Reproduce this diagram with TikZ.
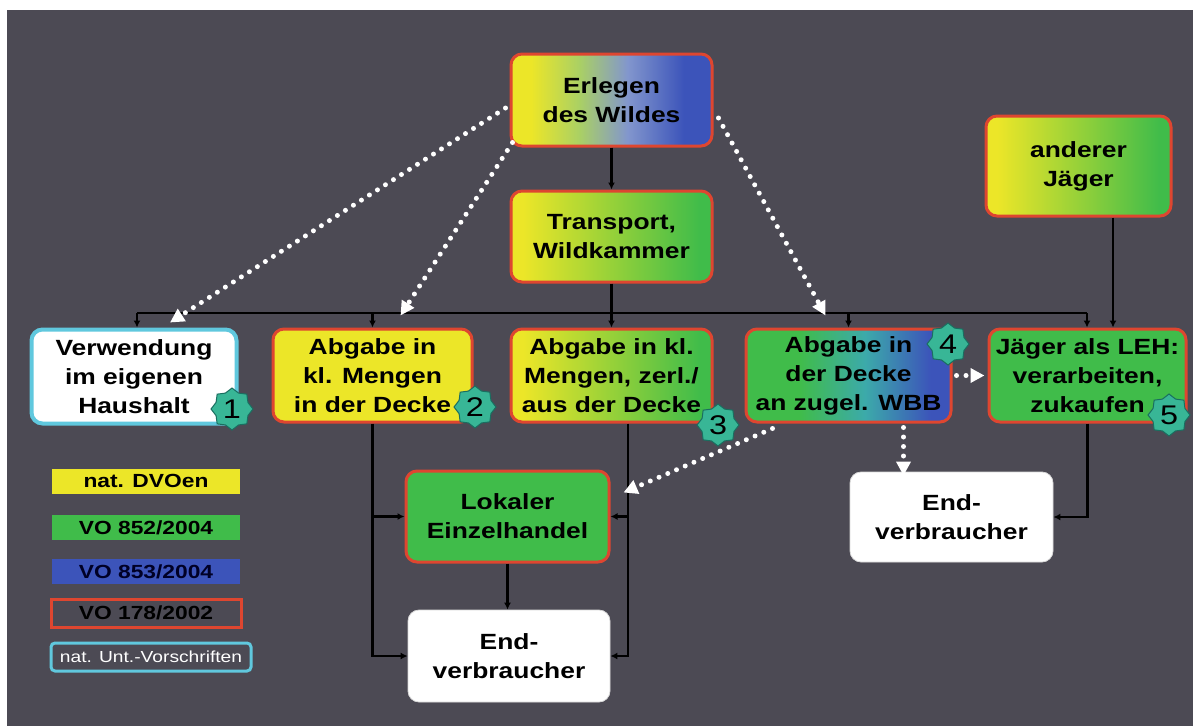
\documentclass[tikz,border=0pt]{standalone}
\usepackage{fontspec}
\setmainfont{Liberation Sans}
\newfontfamily\wide[FakeStretch=1.2]{Liberation Sans}
\usetikzlibrary{shapes.geometric,arrows.meta}
\definecolor{bg}{RGB}{76,74,84}
\definecolor{cyel}{RGB}{236,230,40}
\definecolor{cgrn}{RGB}{64,188,74}
\definecolor{cblu}{RGB}{60,84,186}
\definecolor{clgr}{RGB}{170,208,100}
\definecolor{clav}{RGB}{130,150,205}
\definecolor{ccya}{RGB}{60,170,170}
\definecolor{cred}{RGB}{222,70,48}
\definecolor{ccyan}{RGB}{96,200,222}
\definecolor{cteal}{RGB}{56,182,150}
\definecolor{ctealdk}{RGB}{26,110,96}
\pgfdeclarehorizontalshading{yg}{100bp}{color(0bp)=(cyel); color(28bp)=(cyel); color(72bp)=(cgrn); color(100bp)=(cgrn)}
\pgfdeclarehorizontalshading{ygb}{100bp}{color(0bp)=(cyel); color(30bp)=(cyel); color(42bp)=(clgr); color(54bp)=(clav); color(68bp)=(cblu); color(100bp)=(cblu)}
\pgfdeclarehorizontalshading{gb}{100bp}{color(0bp)=(cgrn); color(38bp)=(cgrn); color(54bp)=(ccya); color(70bp)=(cblu); color(100bp)=(cblu)}
\begin{document}
\begin{tikzpicture}[x=1pt,y=-1pt,
  box/.style={rounded corners=11, align=center, inner sep=0, text=black,
    font=\wide\bfseries\fontsize{22}{29}\selectfont},
  redb/.style={box, draw=cred, line width=3},
  blk/.style={draw=black, line width=2.2},
  blkarr/.style={blk, -{Latex[length=7,width=7]}},
  dotarr/.style={draw=white, line width=5, line cap=round, dash pattern=on 0pt off 9.5pt,
    -{Triangle[length=14,width=14]}},
  badge/.style={star, star points=8, star point ratio=1.22, minimum size=42, inner sep=0,
    fill=cteal, draw=ctealdk, line width=1, text=black,
    font=\wide\fontsize{27}{27}\selectfont},
  legend/.style={minimum width=188, minimum height=25, inner sep=0,
    font=\wide\bfseries\fontsize{19}{20}\selectfont}
]
\useasboundingbox (0,0) rectangle (1193,726);
\fill[white] (0,0) rectangle (1193,726);
\fill[bg] (7,10) rectangle (1193,726);

% boxes
\node[redb, shade, shading=ygb, minimum width=201, minimum height=92] (erlegen) at (611.5,100) {Erlegen\\des Wildes};
\node[redb, shade, shading=yg, minimum width=201, minimum height=91] (transport) at (611.5,236.5) {Transport,\\Wildkammer};
\node[redb, shade, shading=yg, minimum width=185, minimum height=100] (anderer) at (1078.5,166) {anderer\\Jäger};
\node[box, fill=white, draw=ccyan, line width=4, minimum width=205, minimum height=94] (verw) at (134,376.5) {Verwendung\\im eigenen\\Haushalt};
\node[redb, fill=cyel, minimum width=199, minimum height=93] (abg2) at (372.5,375.5) {Abgabe in\\kl. Mengen\\in der Decke};
\node[redb, shade, shading=yg, minimum width=201, minimum height=93] (abg3) at (611.5,375.5) {Abgabe in kl.\\Mengen, zerl./\\aus der Decke};
\node[redb, shade, shading=gb, minimum width=205, minimum height=93] (abg4) at (848.5,375.5) {Abgabe in\\der Decke\\an zugel. WBB};
\node[redb, fill=cgrn, minimum width=197, minimum height=93] (leh) at (1087.5,375.5) {Jäger als LEH:\\verarbeiten,\\zukaufen};
\node[redb, fill=cgrn, minimum width=203, minimum height=91] (lokal) at (507.5,516.5) {Lokaler\\Einzelhandel};
\node[box, fill=white, draw=white!85!black, line width=0.8, minimum width=202, minimum height=92] (end1) at (509,656) {End-\\verbraucher};
\node[box, fill=white, draw=white!85!black, line width=0.8, minimum width=203, minimum height=90] (end2) at (951.5,517) {End-\\verbraucher};

% legend
\node[legend, fill=cyel] (l1) at (146,481) {nat. DVOen};
\node[legend, fill=cgrn] (l2) at (146,527.5) {VO 852/2004};
\node[legend, fill=cblu, text=black!85!blue] (l3) at (146,571.5) {VO 853/2004};
\node[legend, fill=bg, draw=cred, line width=3, minimum width=190, minimum height=28] (l4) at (146,613) {VO 178/2002};
\node[legend, fill=bg, draw=ccyan, line width=3, rounded corners=4, minimum width=200, minimum height=28, text=white, font=\wide\fontsize{16}{18}\selectfont] (l5) at (151,657) {nat. Unt.-Vorschriften};

% black connectors
\coordinate (busL) at (137,313);
\coordinate (busR) at (1087,313);
\draw[blkarr] (erlegen.south) -- (transport.north);
\draw[blk] (transport.south) -- (transport.south |- busL);
\draw[blk] (busL) -- (busR);
\draw[blkarr] (busL) -- (busL |- verw.north);
\draw[blkarr] (abg2.north |- busL) -- (abg2.north);
\draw[blkarr] (abg3.north |- busL) -- (abg3.north);
\draw[blkarr] (abg4.north |- busL) -- (abg4.north);
\draw[blkarr] (busR) -- (busR |- leh.north);
\draw[blkarr] ([xshift=34.5]anderer.south) -- ([xshift=34.5]anderer.south |- leh.north);
\draw[blkarr] (abg2.south) |- (end1.west);
\draw[blkarr] (abg2.south |- lokal.west) -- (lokal.west);
\draw[blkarr] ([xshift=16.5]abg3.south) |- (end1.east);
\draw[blkarr] ([xshift=16.5]abg3.south |- lokal.east) -- (lokal.east);
\draw[blkarr] (lokal.south) -- (lokal.south |- end1.north);
\draw[blkarr] (leh.south) |- (end2.east);

% dotted connectors
\draw[dotarr] ([xshift=-4,yshift=-8]erlegen.west) -- ([xshift=36,yshift=5]verw.north);
\draw[dotarr] ([xshift=3,yshift=5]erlegen.south west) -- ([xshift=28,yshift=12]abg2.north);
\draw[dotarr] ([xshift=5,yshift=-18]erlegen.east) -- ([xshift=-23,yshift=12]abg4.north);
\draw[dotarr] ([xshift=28,yshift=-5]abg4.south west) -- ([xshift=13,yshift=24]lokal.east);
\draw[dotarr] ([xshift=55,yshift=-4]abg4.south) -- ([xshift=55,yshift=-4]abg4.south |- end2.north);
\draw[dotarr] ([xshift=4]abg4.east) -- ([xshift=-3]leh.west);

% badges
\node[badge] (b1) at (232,409) {1};
\node[badge] (b2) at (475,407) {2};
\node[badge] (b3) at (718,425) {3};
\node[badge] (b4) at (948,344) {4};
\node[badge] (b5) at (1169,415) {5};
\end{tikzpicture}
\end{document}
